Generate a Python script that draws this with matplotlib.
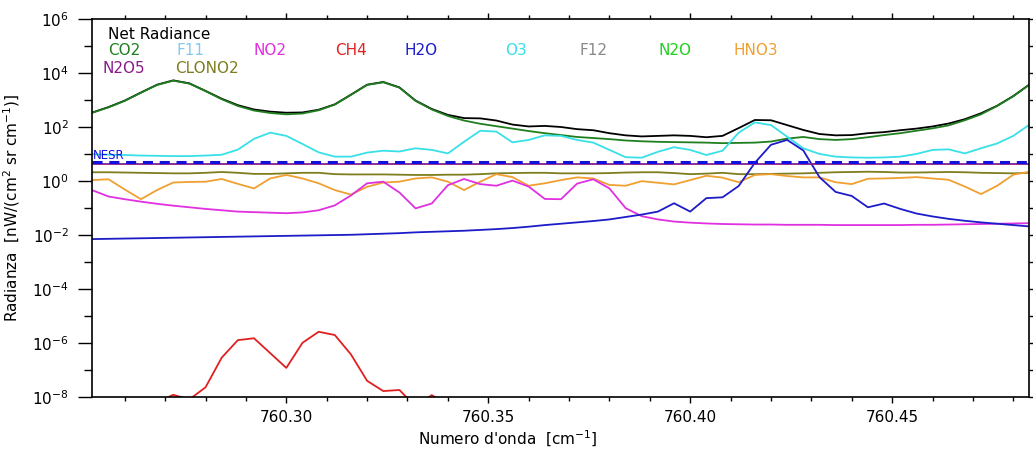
import numpy as np
import matplotlib
matplotlib.use("Agg")
import matplotlib.pyplot as plt
from matplotlib.ticker import FixedLocator, NullFormatter, LogFormatterSciNotation

# spectral grid (cm^-1), 0.004 cm^-1 sampling
nu = np.round(760.252 + 0.004 * np.arange(59), 3)

# log10 of radiance, nW/(cm2 sr cm-1)
net_log = [2.55, 2.75, 2.99, 3.29, 3.58, 3.74, 3.63, 3.35, 3.06, 2.82,
           2.66, 2.58, 2.54, 2.55, 2.65, 2.85, 3.21, 3.58, 3.68, 3.48,
           2.99, 2.68, 2.46, 2.34, 2.33, 2.25, 2.10, 2.03, 2.05, 2.01,
           1.93, 1.89, 1.78, 1.70, 1.66, 1.68, 1.70, 1.68, 1.63, 1.68,
           1.97, 2.27, 2.26, 2.08, 1.90, 1.75, 1.70, 1.71, 1.78, 1.82,
           1.89, 1.95, 2.03, 2.14, 2.30, 2.52, 2.80, 3.16, 3.59]
co2_log = [2.54, 2.74, 2.98, 3.28, 3.57, 3.73, 3.62, 3.34, 3.04, 2.79,
           2.62, 2.53, 2.48, 2.51, 2.63, 2.84, 3.20, 3.57, 3.67, 3.47,
           2.98, 2.66, 2.42, 2.25, 2.13, 2.04, 1.95, 1.86, 1.78, 1.71,
           1.64, 1.60, 1.56, 1.51, 1.48, 1.46, 1.45, 1.44, 1.43, 1.41,
           1.42, 1.43, 1.47, 1.58, 1.64, 1.56, 1.53, 1.56, 1.63, 1.71,
           1.78, 1.87, 1.96, 2.07, 2.26, 2.48, 2.79, 3.15, 3.58]
o3_log = [1.00, 0.98, 0.97, 0.95, 0.94, 0.93, 0.93, 0.95, 0.98, 1.17,
          1.57, 1.80, 1.68, 1.38, 1.07, 0.91, 0.91, 1.06, 1.13, 1.10,
          1.22, 1.16, 1.03, 1.46, 1.87, 1.84, 1.44, 1.53, 1.70, 1.68,
          1.53, 1.43, 1.16, 0.89, 0.87, 1.09, 1.26, 1.16, 0.97, 1.13,
          1.80, 2.18, 2.08, 1.65, 1.22, 1.01, 0.91, 0.88, 0.87, 0.88,
          0.91, 1.01, 1.16, 1.18, 1.03, 1.22, 1.40, 1.68, 2.10]
clono2_log = [0.33, 0.33, 0.32, 0.31, 0.30, 0.29, 0.29, 0.31, 0.34, 0.31,
              0.27, 0.27, 0.29, 0.31, 0.31, 0.26, 0.25, 0.25, 0.25, 0.24,
              0.23, 0.23, 0.24, 0.24, 0.26, 0.29, 0.30, 0.31, 0.31, 0.29,
              0.29, 0.29, 0.30, 0.32, 0.33, 0.33, 0.30, 0.26, 0.28, 0.31,
              0.26, 0.26, 0.27, 0.28, 0.29, 0.31, 0.33, 0.34, 0.35, 0.34,
              0.32, 0.32, 0.33, 0.34, 0.33, 0.31, 0.30, 0.29, 0.31]
hno3_log = [0.04, 0.07, -0.31, -0.67, -0.33, -0.05, -0.03, -0.02, 0.08, -0.10,
            -0.27, 0.10, 0.23, 0.10, -0.08, -0.33, -0.50, -0.21, -0.05, -0.02,
            0.10, 0.14, -0.02, -0.33, -0.02, 0.26, 0.15, -0.17, -0.08, 0.04,
            0.14, 0.10, -0.14, -0.17, 0.00, -0.06, -0.12, 0.04, 0.20, 0.13,
            -0.04, 0.23, 0.26, 0.19, 0.14, 0.14, -0.04, -0.11, 0.09, 0.10,
            0.12, 0.15, 0.10, 0.05, -0.20, -0.48, -0.17, 0.24, 0.35]
no2_log = [-0.34, -0.57, -0.67, -0.76, -0.84, -0.91, -0.97, -1.03, -1.08, -1.13,
           -1.15, -1.17, -1.19, -1.16, -1.08, -0.90, -0.53, -0.08, -0.02, -0.42,
           -1.01, -0.83, -0.15, 0.08, -0.11, -0.17, 0.02, -0.20, -0.66, -0.67,
           -0.09, 0.07, -0.27, -1.00, -1.30, -1.42, -1.50, -1.54, -1.57, -1.59,
           -1.60, -1.61, -1.61, -1.62, -1.62, -1.62, -1.63, -1.63, -1.63, -1.63,
           -1.63, -1.62, -1.62, -1.61, -1.60, -1.59, -1.58, -1.57, -1.56]
h2o_log = [-2.15, -2.14, -2.13, -2.12, -2.11, -2.10, -2.09, -2.08, -2.07, -2.06,
           -2.05, -2.04, -2.03, -2.02, -2.01, -2.00, -1.99, -1.97, -1.95, -1.93,
           -1.90, -1.88, -1.86, -1.84, -1.81, -1.78, -1.74, -1.69, -1.63, -1.58,
           -1.53, -1.48, -1.42, -1.33, -1.24, -1.13, -0.82, -1.13, -0.63, -0.60,
           -0.18, 0.68, 1.35, 1.53, 1.14, 0.15, -0.40, -0.55, -0.97, -0.83,
           -1.03, -1.20, -1.31, -1.40, -1.47, -1.53, -1.58, -1.63, -1.68]
# CH4 only rises above 1e-8 between grid points 4 and 22
ch4_log = [-8.2, -7.93, -8.1, -7.65, -6.55, -5.90, -5.83, -6.38, -6.93, -6.00,
           -5.59, -5.71, -6.43, -7.41, -7.79, -7.75, -8.36, -7.94, -8.3]
ch4_start = 4

n2o5_value = 4.2
nesr_value = 5.0

# species labels and their colours
row1_names = ["CO2", "F11", "NO2", "CH4", "H2O", "O3", "F12", "N2O", "HNO3"]
row1_colors = ["#1f7f1f", "#87c8f0", "#e030e0", "#e02020", "#1c1cc8",
               "#38e0e8", "#888888", "#20d020", "#f0a030"]
row1_x = [0.0165, 0.0902, 0.1724, 0.2588, 0.3335, 0.4400, 0.5203, 0.6046, 0.6846]
row2_names = ["N2O5", "CLONO2"]
row2_colors = ["#8a1c8a", "#7d7d1e"]
row2_x = [0.0112, 0.0880]

fig = plt.figure(figsize=(10.33, 4.5), dpi=100)
ax = fig.add_axes([0.0895, 0.1184, 0.9071, 0.8383])

lw = 1.3
ax.plot(nu, 10 ** np.array(net_log), color="black", lw=lw)
ax.plot(nu, 10 ** np.array(co2_log), color="#1f7f1f", lw=lw)
ax.plot(nu, 10 ** np.array(o3_log), color="#38e0e8", lw=lw)
ax.plot(nu, 10 ** np.array(clono2_log), color="#7d7d1e", lw=lw)
ax.plot(nu, 10 ** np.array(hno3_log), color="#f0a030", lw=lw)
ax.plot(nu, 10 ** np.array(no2_log), color="#e030e0", lw=lw)
ax.plot(nu, 10 ** np.array(h2o_log), color="#1c1cc8", lw=lw)
ax.plot(nu[ch4_start:ch4_start + len(ch4_log)], 10 ** np.array(ch4_log),
        color="#e02020", lw=lw)
ax.axhline(n2o5_value, color="#8a1c8a", lw=lw)
ax.axhline(nesr_value, color="#1010e0", lw=2.2, dashes=(3.3, 2.2))
# label sits just above the dashed NESR line
ax.text(0.0005, nesr_value * 1.85, "NESR", color="#1010e0", fontsize=8.5,
        va="center", ha="left", transform=ax.get_yaxis_transform())

ax.set_yscale("log")
ax.set_xlim(nu[0], nu[-1])
ax.set_ylim(1e-8, 1e6)

ax.yaxis.set_major_locator(FixedLocator([10.0 ** e for e in range(-8, 7, 2)]))
ax.yaxis.set_minor_locator(FixedLocator([10.0 ** e for e in range(-7, 6, 2)]))
ax.yaxis.set_major_formatter(LogFormatterSciNotation())
ax.yaxis.set_minor_formatter(NullFormatter())
ax.xaxis.set_major_locator(FixedLocator([760.30, 760.35, 760.40, 760.45]))
ax.xaxis.set_minor_locator(FixedLocator(np.round(np.arange(760.26, 760.485, 0.01), 2)))
ax.xaxis.set_major_formatter(lambda v, p: f"{v:.2f}")

ax.tick_params(axis="x", which="major", direction="out", length=4.5, width=1,
               top=True, labelsize=11, pad=5)
ax.tick_params(axis="x", which="minor", direction="out", length=3, width=1, top=True)
ax.tick_params(axis="y", which="major", direction="out", length=10, width=1,
               right=True, labelsize=11, pad=7)
ax.tick_params(axis="y", which="minor", direction="out", length=5.5, width=1, right=True)
for s in ax.spines.values():
    s.set_linewidth(1.2)

ax.set_ylabel("Radianza  [nW/(cm$^2$ sr cm$^{-1}$)]", fontsize=11)
ax.yaxis.set_label_coords(-0.075, 0.5)
ax.set_xlabel("Numero d'onda  [cm$^{-1}$]", fontsize=11, va="top")
ax.xaxis.set_label_coords(0.443, -0.086)

ax.text(0.0165, 0.959, "Net Radiance", color="black", fontsize=11,
        transform=ax.transAxes, va="center")
for name, col, x in zip(row1_names, row1_colors, row1_x):
    ax.text(x, 0.919, name, color=col, fontsize=11, transform=ax.transAxes, va="center")
for name, col, x in zip(row2_names, row2_colors, row2_x):
    ax.text(x, 0.871, name, color=col, fontsize=11, transform=ax.transAxes, va="center")

fig.savefig("out.png", dpi=100)
